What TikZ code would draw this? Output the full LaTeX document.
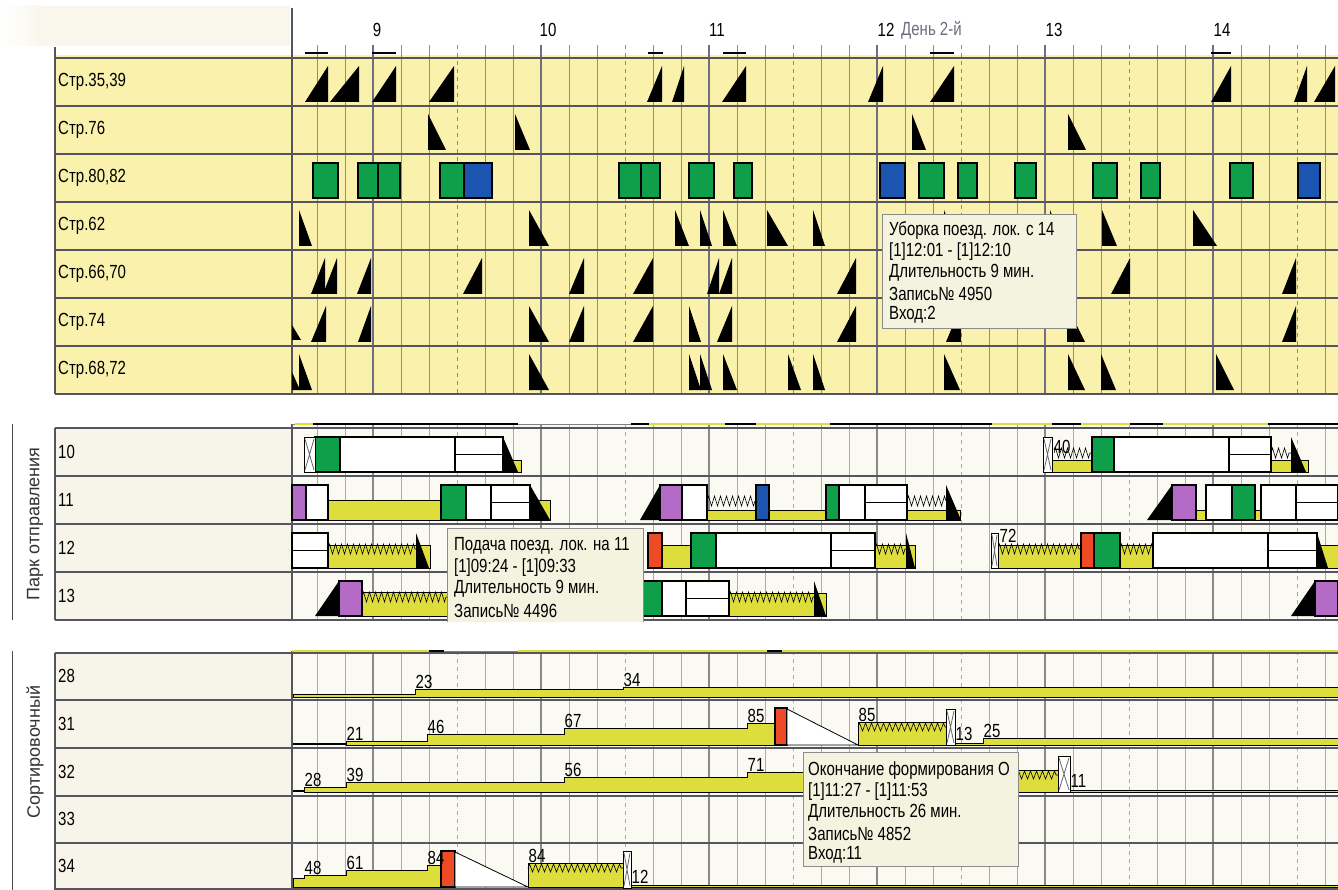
\documentclass[tikz,border=0pt]{standalone}
\usepackage{fontspec}
\setmainfont{Liberation Sans}[FakeStretch=0.79]
\newfontfamily\grpfont{Liberation Sans}
\usetikzlibrary{decorations.pathmorphing}
\definecolor{gtop}{HTML}{F9F1AC}
\definecolor{gcream}{HTML}{FBFAF2}
\definecolor{ghead}{HTML}{F9F7EC}
\definecolor{glabel}{HTML}{F7F5E9}
\definecolor{ggrid}{HTML}{8E89A2}
\definecolor{ggridlt}{HTML}{ABABAB}
\definecolor{grow}{HTML}{55555F}
\definecolor{gbar}{HTML}{DDDD3C}
\definecolor{ggreen}{HTML}{0F9E4A}
\definecolor{gblue}{HTML}{1C55B0}
\definecolor{gviolet}{HTML}{B46BC6}
\definecolor{gred}{HTML}{EF4A26}
\definecolor{gtip}{HTML}{F4F3DF}
\definecolor{gday}{HTML}{6E6E7E}
\tikzset{
  txt/.style={font=\fontsize{19}{22}\selectfont,inner sep=0pt,text=black},
  rowlbl/.style={txt,anchor=west},
  hourlbl/.style={txt},
  numlbl/.style={txt,anchor=south west,inner sep=.5pt},
  grplbl/.style={font=\grpfont\fontsize{18}{20}\selectfont,text=black!80,rotate=90},
  tiplbl/.style={txt,anchor=west},
  tipbox/.style={fill=gtip,draw=black!45,line width=.7pt},
  rowline/.style={draw=grow,line width=1.3pt},
  grpline/.style={draw=black!70,line width=1pt},
  minorln/.style={line width=.9pt},
  halfln/.style={line width=.9pt,dash pattern=on 4pt off 4pt},
  hourln/.style={line width=1.5pt},
  car/.style={draw=black,line width=1.2pt},
  wcar/.style={car,fill=white},
  wagons/.style={draw=black,line width=.8pt,fill=gbar},
  waves/.style={draw=black,line width=.6pt,decorate,decoration={zigzag,segment length=6pt,amplitude=5pt}},
  lowwaves/.style={waves,decoration={amplitude=4pt}},
  hglass/.style={draw=black,line width=1pt,fill=white},
  hglassx/.style={draw=black!60,line width=.8pt},
  loco/.style={fill=black},
  steparea/.style={draw=black,line width=.9pt,fill=gbar},
  tick/.style={draw=black,line width=1.2pt},
}
\begin{document}
\begin{tikzpicture}[x=1pt,y=-1pt]
  \useasboundingbox[fill=white] (0,0) rectangle (1338,890);
  \fill[ghead] (40,6) rectangle (290,46);
  \shade[left color=white,right color=ghead] (0,6) rectangle (40,46);
  % panels
  \fill[gtop] (55,55) rectangle (1338,394);
  \fill[glabel] (55,428) rectangle (292,620);
  \fill[gcream] (292,424) rectangle (1338,620);
  \fill[glabel] (55,653) rectangle (292,889);
  \fill[gcream] (292,651) rectangle (1338,890);
  % time grid, one column = 10 min
  \foreach \ya/\yb/\gc in {45/394/ggrid,424/620/ggridlt,651/890/ggridlt} {
    \foreach \k in {0,...,36} {
      \pgfmathtruncatemacro\m{mod(\k+4,6)}
      \ifnum\m=3
        \draw[halfln,draw=\gc] (317+28*\k,\ya) -- (317+28*\k,\yb);
      \else
        \draw[minorln,draw=\gc] (317+28*\k,\ya) -- (317+28*\k,\yb);
      \fi
    }
    \foreach \h in {0,...,5}
      \draw[hourln,draw=\gc!80!black] (373+168*\h,\ya) -- (373+168*\h,\yb);
  }
  % rows and borders
  \foreach \y in {58,106,...,394} \draw[rowline] (55,\y) -- (1338,\y);
  \foreach \y in {428,476,...,620} \draw[rowline] (55,\y) -- (1338,\y);
  \foreach \y in {653,700,748,796,843,889} \draw[rowline] (55,\y) -- (1338,\y);
  \draw[rowline] (55,47) -- (55,394) (292,8) -- (292,394);
  \draw[rowline] (55,428) -- (55,620) (292,424) -- (292,620);
  \draw[rowline] (55,653) -- (55,890) (292,651) -- (292,890);
  \draw[grpline] (12,424) -- (12,620) (12,651) -- (12,890);
  % status bars over the lower panels
  \draw[black!50,line width=.8pt] (292,424) -- (1338,424);
  \foreach \xa/\xb in {313/518,631/649,725/756,830/992,1052/1081,1130/1163,1268/1338}
    \draw[black,line width=2.6pt] (\xa,424) -- (\xb,424);
  \foreach \xa/\xb in {295/313,649/725,756/830,992/1052,1081/1130,1163/1268}
    \draw[gbar,line width=2.6pt] (\xa,424) -- (\xb,424);
  \draw[gbar,line width=2.6pt] (292,651) -- (444,651) (518,651) -- (1338,651);
  \draw[black!50,line width=.8pt] (444,651) -- (518,651);
  \draw[black,line width=2.6pt] (429,651) -- (444,651) (767,651) -- (782,651);

  % ---- tracks (top panel)
  \foreach \xa/\xb in {305/328,372/396,648/663,723/746,930/954,1211/1231}
    \draw[tick] (\xa,53) -- (\xb,53);
  \foreach \r/\xs in {58/{305/328,330/359,372/396,429/454,647/662,672/684,722/746,868/883,930/954,1211/1231,1294/1307,1314/1335},
                      250/{311/325,323/337,357/371,463/482,569/584,633/653,707/719,719/732,837/856,1111/1130,1282/1296},
                      298/{311/326,358/371,569/584,633/653,717/732,837/856,946/961,1282/1296}}
    \foreach \xa/\xb in \xs
      \fill[loco] (\xa,\r+44) -- (\xb,\r+44) -- (\xb,\r+8) -- cycle;
  \foreach \r/\xs in {106/{428/446,515/530,912/926,1068/1086},
                      202/{299/312,529/549,675/689,700/712,723/737,767/788,813/825,944/958,1050/1064,1102/1117,1193/1217},
                      298/{529/549,689/701,1067/1085},
                      346/{299/312,529/549,689/701,700/712,723/737,788/801,813/825,944/960,1068/1085,1101/1116,1216/1234}}
    \foreach \xa/\xb in \xs
      \fill[loco] (\xa,\r+8) -- (\xa,\r+44) -- (\xb,\r+44) -- cycle;
  \fill[loco] (292,325) -- (292,340) -- (301,340) -- cycle;
  \fill[loco] (292,372) -- (292,390) -- (300,390) -- cycle;
  \foreach \xa/\xb/\c in {313/338/ggreen,358/378/ggreen,378/400/ggreen,440/464/ggreen,464/492/gblue,
                          619/641/ggreen,641/660/ggreen,689/714/ggreen,734/752/ggreen,880/905/gblue,
                          919/944/ggreen,958/977/ggreen,1015/1036/ggreen,1093/1117/ggreen,1141/1160/ggreen,
                          1230/1253/ggreen,1298/1320/gblue}
    \draw[car,fill=\c] (\xa,163) rectangle (\xb,198);

  % ---- departure yard (middle panel)
  \foreach \xa/\xb/\r/\t in {503/521/428/32,1052/1092/428/32,1271/1308/428/32,
      328/441/476/24,530/550/476/24,707/756/476/34,769/826/476/34,907/960/476/34,1196/1206/476/34,1255/1261/476/34,
      328/430/524/21,662/691/524/21,875/915/524/21,998/1081/524/21,1120/1153/524/21,1317/1338/524/21,
      362/448/572/20,729/826/572/21}
    \draw[wagons] (\xa,\r+\t) rectangle (\xb,\r+44);
  \foreach \xa/\xb/\r in {1054/1092/428,1271/1291/428,707/756/476,907/946/476,328/416/524,
                          875/906/524,998/1080/524,1120/1153/524,362/448/572,729/814/572}
    \draw[waves] (\xa,\r+25) -- (\xb,\r+25);
  \foreach \xa/\xb/\r in {340/455/428,1114/1229/428,306/328/476,466/491/476,682/707/476,839/865/476,
                          1206/1232/476,1261/1296/476,716/831/524,1153/1268/524,662/686/572}
    \draw[wcar] (\xa,\r+9) rectangle (\xb,\r+44);
  \foreach \xa/\xb/\r in {455/503/428,1229/1271/428,491/530/476,865/907/476,1296/1338/476,
                          292/328/524,831/875/524,1268/1317/524,686/729/572} {
    \draw[wcar] (\xa,\r+9) rectangle (\xb,\r+44);
    \draw[car] (\xa,\r+26.5) -- (\xb,\r+26.5);
  }
  \foreach \xa/\xb/\r/\c in {315/340/428/ggreen,1092/1114/428/ggreen,292/306/476/gviolet,441/466/476/ggreen,
      660/682/476/gviolet,756/769/476/gblue,826/839/476/ggreen,1172/1196/476/gviolet,1232/1255/476/ggreen,
      648/662/524/gred,691/716/524/ggreen,1081/1094/524/gred,1094/1120/524/ggreen,
      339/362/572/gviolet,643/662/572/ggreen,1315/1338/572/gviolet}
    \draw[car,fill=\c] (\xa,\r+9) rectangle (\xb,\r+44);
  \foreach \xa/\xb/\r in {503/518/428,1291/1306/428,530/550/476,946/961/476,416/429/524,
                          906/915/524,1317/1328/524,814/826/572}
    \fill[loco] (\xa,\r+9) -- (\xa,\r+44) -- (\xb,\r+44) -- cycle;
  \foreach \xa/\xb/\r in {640/660/476,1147/1172/476,315/339/572,1291/1315/572}
    \fill[loco] (\xa,\r+44) -- (\xb,\r+44) -- (\xb,\r+9) -- cycle;
  \node[numlbl] (n40) at (1053,454) {40};
  \node[numlbl] (n72) at (999,543) {72};

  % ---- sorting yard (bottom panel)
  \draw[steparea] (293,697) -- (293,694) -- (415,694) -- (415,689) -- (623,689) -- (623,687) -- (1338,687) -- (1338,697) -- cycle;
  \draw[black,line width=2.4pt] (293,744) -- (346,744);
  \draw[steparea] (346,745) -- (346,741) -- (427,741) -- (427,734) -- (564,734) -- (564,728) -- (747,728) -- (747,723) -- (775,723) -- (775,745) -- cycle;
  \draw[car,fill=gred] (775,708) rectangle (787,745);
  \draw[car,fill=white,line width=.8pt] (787,709) -- (858,745) -- (787,745) -- cycle;
  \draw[wagons] (858,722) rectangle (946,745);
  \draw[lowwaves] (858,727) -- (946,727);
  \draw[steparea] (955,745) -- (955,743) -- (983,743) -- (983,738) -- (1338,738) -- (1338,745) -- cycle;
  \draw[black,line width=2.4pt] (293,791) -- (304,791);
  \draw[steparea] (304,792) -- (304,787) -- (346,787) -- (346,782) -- (564,782) -- (564,777) -- (747,777) -- (747,772) -- (1017,772) -- (1017,792) -- cycle;
  \draw[wagons] (1017,770) rectangle (1058,792);
  \draw[lowwaves] (1017,775) -- (1058,775);
  \draw[steparea] (1070,792) -- (1070,790) -- (1338,790) -- (1338,792) -- cycle;
  \draw[steparea] (293,887) -- (293,878) -- (304,878) -- (304,875) -- (346,875) -- (346,870) -- (427,870) -- (427,865) -- (441,865) -- (441,887) -- cycle;
  \draw[car,fill=gred] (441,851) rectangle (455,887);
  \draw[car,fill=white,line width=.8pt] (455,852) -- (528,887) -- (455,887) -- cycle;
  \draw[wagons] (528,863) rectangle (623,887);
  \draw[lowwaves] (528,868) -- (623,868);
  \draw[steparea] (631,887) -- (631,885) -- (1338,885) -- (1338,887) -- cycle;
  \foreach \xa/\xb/\ya/\yb in {304/315/437/472,1043/1052/437/472,991/998/533/568,
                               946/955/709/745,1058/1070/756/792,623/631/851/888} {
    \draw[hglass] (\xa,\ya) rectangle (\xb,\yb);
    \draw[hglassx] (\xa+1,\ya+2) -- (\xb-1,\yb-2) (\xb-1,\ya+2) -- (\xa+1,\yb-2);
  }
  \foreach \x/\y/\t [count=\i] in {415/689/23,623/687/34,
      346/741/21,427/734/46,564/728/67,747/723/85,858/722/85,955/741/13,983/738/25,
      304/787/28,346/782/39,564/777/56,747/772/71,1070/788/11,
      304/875/48,346/870/61,427/865/84,528/863/84,631/884/12}
    \node[numlbl] (lvl\i) at (\x,\y) {\t};

  % ---- labels
  \foreach \h/\x in {9/377,10/548,11/717,12/886,13/1054,14/1222}
    \node[hourlbl] (hr\h) at (\x,30) {\h};
  \node[hourlbl,anchor=west,text=gday] (day2) at (901,30) {День 2-й};
  \foreach \t [count=\i] in {{Стр.35,39},Стр.76,{Стр.80,82},Стр.62,{Стр.66,70},Стр.74,{Стр.68,72}}
    \node[rowlbl] (trk\i) at (58,34+48*\i) {\t};
  \foreach \t [count=\i] in {10,11,12,13}
    \node[rowlbl] (dep\t) at (58,404+48*\i) {\t};
  \foreach \t/\y in {28/676,31/724,32/772,33/819,34/866}
    \node[rowlbl] (srt\t) at (58,\y) {\t};
  \node[grplbl] (gdep) at (35,524) {Парк отправления};
  \node[grplbl] (gsrt) at (35,752) {Сортировочный};

  % ---- tooltips
  \draw[tipbox] (882,214) rectangle (1076,328);
  \foreach \t [count=\i] in {Уборка поезд. лок. с 14,{[1]12:01 - [1]12:10},Длительность 9 мин.,Запись№ 4950,Вход:2}
    \node[tiplbl] (tipa\i) at (889,210+21*\i) {\t};
  \begin{scope}
    \clip (440,520) rectangle (650,621);
    \draw[tipbox] (447,528) rectangle (643,650);
    \foreach \t [count=\i] in {Подача поезд. лок. на 11,{[1]09:24 - [1]09:33},Длительность 9 мин.,Запись№ 4496}
      \node[tiplbl] (tipb\i) at (454,524.5+21.5*\i) {\t};
  \end{scope}
  \draw[tipbox] (803,752) rectangle (1018,866);
  \foreach \t [count=\i] in {Окончание формирования О,{[1]11:27 - [1]11:53},Длительность 26 мин.,Запись№ 4852,Вход:11}
    \node[tiplbl] (tipc\i) at (808,749+21.2*\i) {\t};
\end{tikzpicture}
\end{document}
